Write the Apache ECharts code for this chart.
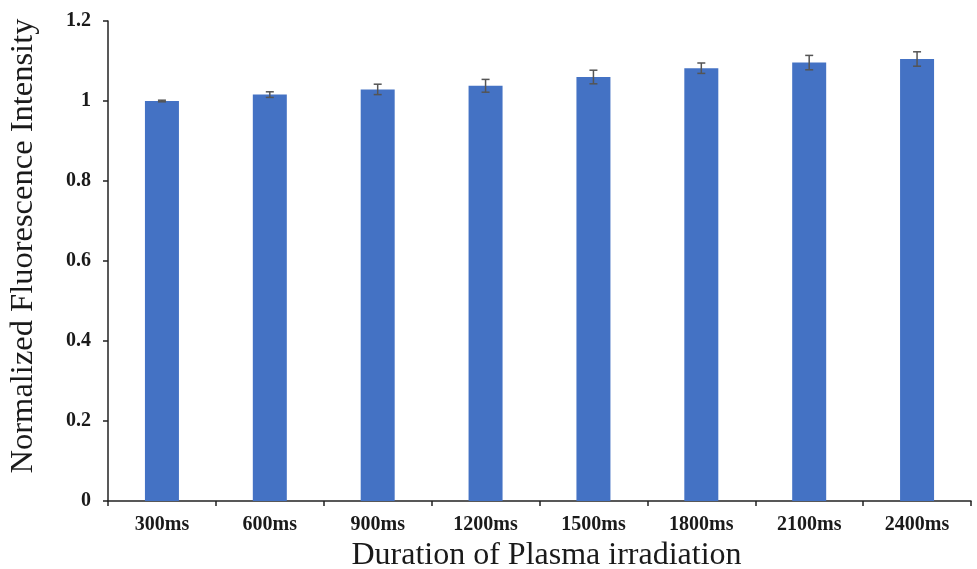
<!DOCTYPE html>
<html>
<head>
<meta charset="utf-8">
<script src="https://cdn.jsdelivr.net/npm/echarts@6/dist/echarts.min.js"></script>
<style>
    html, body { margin: 0; padding: 0; background: #fff; }
    #chart { width: 977px; height: 569px; }
</style>
</head>
<body>
<div id="chart"></div>
<script>
var categories = ['300ms', '600ms', '900ms', '1200ms', '1500ms', '1800ms', '2100ms', '2400ms'];
var values = [1.0, 1.016, 1.029, 1.038, 1.060, 1.082, 1.096, 1.105];
var errors = [0.002, 0.007, 0.013, 0.016, 0.017, 0.013, 0.018, 0.018];
var yTicks = [0, 0.2, 0.4, 0.6, 0.8, 1, 1.2];

var myChart = echarts.init(document.getElementById('chart'));

var errData = [];
for (var i = 0; i < categories.length; i++) {
    errData.push([i, values[i] - errors[i], values[i] + errors[i]]);
}

var option = {
    animation: false,
    grid: {
        left: 108,
        right: 6,
        top: 21,
        bottom: 68,
        outerBoundsMode: 'none',
        containLabel: false
    },
    xAxis: {
        type: 'category',
        data: categories,
        name: 'Duration of Plasma irradiation',
        nameLocation: 'middle',
        nameGap: 35,
        nameTextStyle: {
            fontFamily: 'Liberation Serif',
            fontSize: 32,
            color: '#1a1a1a',
            padding: [0, 0, 0, 14]
        },
        axisLine: { lineStyle: { color: '#222', width: 1.5 } },
        axisTick: { show: true, length: 5, lineStyle: { color: '#222', width: 1.5 } },
        axisLabel: {
            fontFamily: 'Liberation Serif',
            fontWeight: 'bold',
            fontSize: 20,
            color: '#1a1a1a',
            margin: 14
        }
    },
    yAxis: {
        type: 'value',
        min: yTicks[0],
        max: yTicks[yTicks.length - 1],
        interval: 0.2,
        name: 'Normalized Fluorescence Intensity',
        nameLocation: 'middle',
        nameGap: 68,
        nameTextStyle: {
            fontFamily: 'Liberation Serif',
            fontSize: 32.5,
            color: '#1a1a1a',
            padding: [0, 0, 0, 30]
        },
        splitLine: { show: false },
        axisLine: { show: true, lineStyle: { color: '#222', width: 1.5 } },
        axisTick: { show: true, length: 5, lineStyle: { color: '#222', width: 1.5 } },
        axisLabel: {
            fontFamily: 'Liberation Serif',
            fontWeight: 'bold',
            fontSize: 20,
            color: '#1a1a1a',
            margin: 17,
            formatter: function (v) { return String(Math.round(v * 10) / 10); }
        }
    },
    series: [{
        type: 'bar',
        data: values,
        barWidth: 34,
        itemStyle: { color: '#4472C4' }
    }, {
        type: 'custom',
        data: errData,
        z: 10,
        renderItem: function (params, api) {
            var x = api.value(0);
            var lo = api.coord([x, api.value(1)]);
            var hi = api.coord([x, api.value(2)]);
            var half = 4;
            var style = { stroke: '#555', lineWidth: 1.5 };
            return {
                type: 'group',
                children: [
                    { type: 'line', shape: { x1: lo[0], y1: lo[1], x2: hi[0], y2: hi[1] }, style: style },
                    { type: 'line', shape: { x1: hi[0] - half, y1: hi[1], x2: hi[0] + half, y2: hi[1] }, style: style },
                    { type: 'line', shape: { x1: lo[0] - half, y1: lo[1], x2: lo[0] + half, y2: lo[1] }, style: style }
                ]
            };
        }
    }]
};

option && myChart.setOption(option);
</script>
</body>
</html>
